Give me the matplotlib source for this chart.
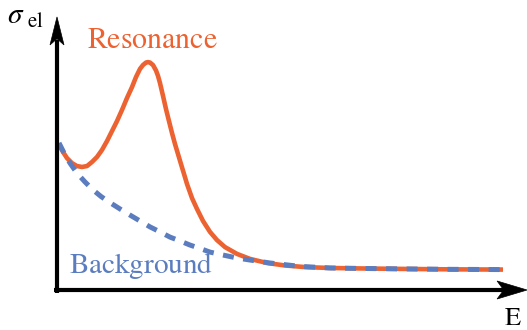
import matplotlib
matplotlib.use("Agg")
import matplotlib.pyplot as plt
from matplotlib.patches import Polygon
from matplotlib import transforms

plt.rcParams["mathtext.fontset"] = "stix"

# Elastic cross section vs. energy (arbitrary units)
energy_res = [0.045, 0.135, 0.224, 0.336, 0.448, 0.561, 0.673, 0.785, 0.897, 1.009,
              1.121, 1.233, 1.345, 1.457, 1.570, 1.682, 1.771, 1.861, 1.928, 1.996,
              2.040, 2.085, 2.152, 2.220, 2.265, 2.309, 2.377, 2.444, 2.511, 2.578,
              2.646, 2.713, 2.780, 2.848, 2.915, 3.027, 3.139, 3.274, 3.430, 3.587,
              3.767, 4.036, 4.327, 4.709, 5.112, 5.561, 6.121, 6.794, 7.691, 8.812,
              10.0]
sigma_res = [0.639, 0.608, 0.581, 0.559, 0.546, 0.542, 0.546, 0.564, 0.586, 0.617,
             0.656, 0.700, 0.744, 0.793, 0.846, 0.894, 0.938, 0.974, 0.991, 1.002,
             1.004, 1.002, 0.991, 0.967, 0.943, 0.912, 0.855, 0.797, 0.744, 0.692,
             0.643, 0.599, 0.555, 0.511, 0.467, 0.405, 0.357, 0.304, 0.256, 0.220,
             0.189, 0.159, 0.137, 0.119, 0.108, 0.101, 0.097, 0.095, 0.093, 0.091,
             0.090]

energy_bg = [0.045, 0.157, 0.291, 0.448, 0.628, 0.807, 0.987, 1.188, 1.413, 1.637,
             1.861, 2.085, 2.309, 2.534, 2.758, 2.982, 3.206, 3.430, 3.722, 4.036,
             4.327, 4.776, 5.448, 6.121, 6.794, 7.691, 8.812, 10.0]
sigma_bg = [0.648, 0.604, 0.559, 0.515, 0.476, 0.441, 0.412, 0.385, 0.357, 0.330,
            0.304, 0.278, 0.256, 0.233, 0.216, 0.198, 0.183, 0.167, 0.154, 0.141,
            0.132, 0.119, 0.104, 0.097, 0.095, 0.093, 0.091, 0.090]

orange = "#EC6231"
blue = "#5B7DBF"

fig = plt.figure(figsize=(5.27, 3.30), dpi=100)
fig.patch.set_facecolor("white")
ax = fig.add_axes([57 / 527, 40 / 330, 446 / 527, 227 / 330])
ax.set_xlim(0, 10)
ax.set_ylim(0, 1)
ax.axis("off")

ax.plot(energy_res, sigma_res, color=orange, lw=3.3, solid_capstyle="butt",
        solid_joinstyle="round", clip_on=False, zorder=3)
ax.plot(energy_bg, sigma_bg, color=blue, lw=3.6, linestyle=(0, (2.2, 1.9)),
        dash_capstyle="butt", clip_on=False, zorder=4)

# Axes drawn as arrows
ax.plot([-0.06, 10.3], [0, 0], color="black", lw=3.0, clip_on=False,
        solid_capstyle="butt", zorder=5)
ax.plot([0, 0], [-0.012, 1.1], color="black", lw=3.0, clip_on=False,
        solid_capstyle="butt", zorder=5)


def arrow_head(x, y, length, width, vertical=False):
    trans = fig.dpi_scale_trans + transforms.ScaledTranslation(x, y, ax.transData)
    if vertical:
        verts = [(0, 0), (-width / 2, -length), (0, -0.78 * length), (width / 2, -length)]
    else:
        verts = [(0, 0), (-length, width / 2), (-0.78 * length, 0), (-length, -width / 2)]
    ax.add_patch(Polygon(verts, closed=True, facecolor="black", edgecolor="black",
                         lw=0.5, transform=trans, clip_on=False, zorder=6))


arrow_head(10.54, 0, 0.30, 0.18)
arrow_head(0, 1.203, 0.28, 0.14, vertical=True)

ax.text(2.14, 1.066, r"$\mathrm{Resonance}$", color=orange, fontsize=21.5,
        ha="center", va="baseline")
ax.text(1.895, 0.075, r"$\mathrm{Background}$", color=blue, fontsize=21,
        ha="center", va="baseline")
ax.text(10.22, -0.152, r"$\mathrm{E}$", color="black", fontsize=19,
        ha="center", va="baseline")
ax.text(-1.12, 1.176, r"$\sigma$", color="black", fontsize=21, ha="left", va="baseline")
ax.text(-0.67, 1.159, r"$\mathrm{el}$", color="black", fontsize=15,
        ha="left", va="baseline")

fig.savefig("out.png", dpi=100, facecolor="white")
